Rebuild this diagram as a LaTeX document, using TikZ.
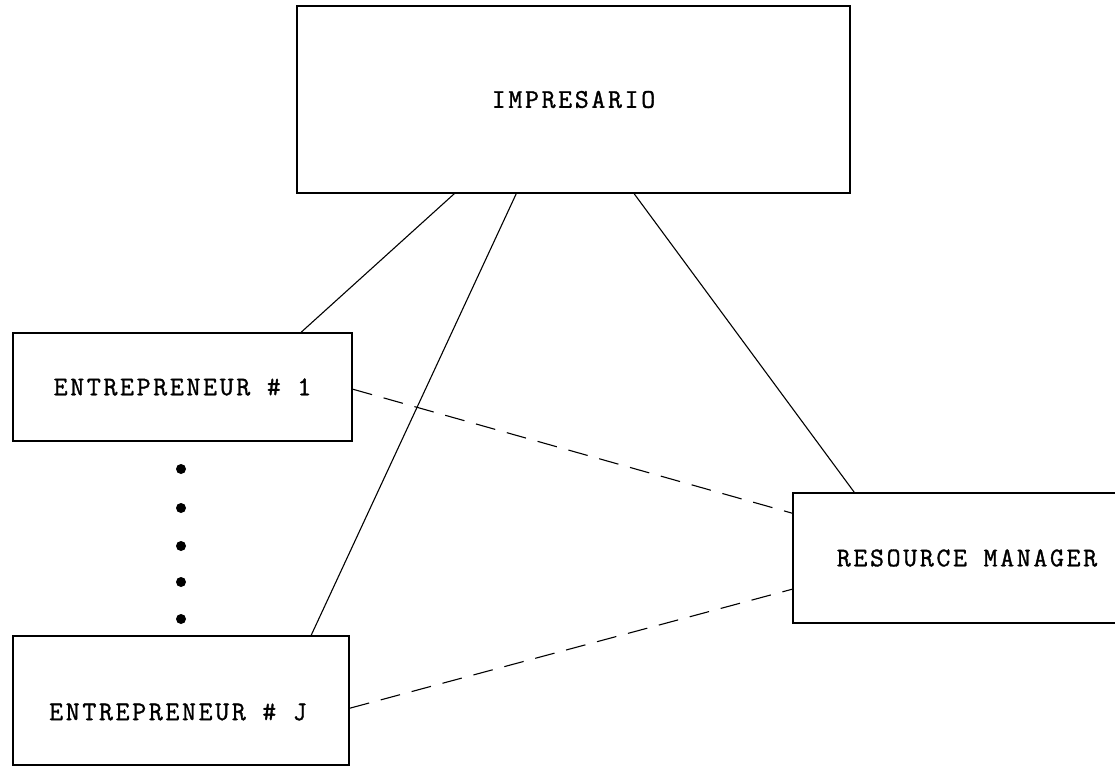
\documentclass[tikz,border=0pt]{standalone}
\usepackage{fontspec}
\setmonofont{Latin Modern Mono}[LetterSpace=10, FakeBold=1.2]
\usetikzlibrary{calc}
\begin{document}
\begin{tikzpicture}[x=1pt,y=-1pt,
  box/.style={draw, line width=1.6pt, inner sep=0pt},
  label/.style={font=\ttfamily\fontsize{27}{31}\selectfont, inner sep=0pt},
  link/.style={line width=1.1pt},
  dashlink/.style={line width=1.1pt, dash pattern=on 20pt off 12pt},
  dot/.style={circle, fill, inner sep=0pt, minimum size=10pt}]
\useasboundingbox (0,0) rectangle (1115,767);

% boxes
\node[box, label, minimum width=553pt, minimum height=187pt] (imp) at (573.5,99.5) {IMPRESARIO};
\node[box, label, minimum width=339pt, minimum height=108pt] (e1) at (182.5,387) {ENTREPRENEUR \# 1};
\node[box, minimum width=336pt, minimum height=129pt] (ej) at (181,700.5) {};
\node[label] (ejtext) at (178,712) {ENTREPRENEUR \# J};
\node[box, label, minimum width=348pt, minimum height=130pt] (rm) at (967,558) {RESOURCE MANAGER};

% ellipsis dots between the entrepreneurs
\foreach \y [count=\i] in {469,508,546,582,619}
  \node[dot] (d\i) at (181,\y) {};

% attachment points on the box edges
\coordinate (p1) at ($(imp.south west)+(158,0)$);
\coordinate (p2) at ($(imp.south west)+(220,0)$);
\coordinate (p3) at ($(imp.south west)+(338,0)$);
\coordinate (q1) at ($(e1.north west)+(289,0)$);
\coordinate (q2) at ($(ej.north west)+(299,0)$);
\coordinate (q3) at ($(rm.north west)+(62,0)$);
\coordinate (r1) at ($(e1.north east)+(0,57)$);
\coordinate (r2) at ($(ej.north east)+(0,73)$);
\coordinate (s1) at ($(rm.north west)+(0,21)$);
\coordinate (s2) at ($(rm.north west)+(0,97)$);

% solid links from the impresario
\draw[link] (p1) -- (q1);
\draw[link] (p2) -- (q2);
\draw[link] (p3) -- (q3);

% dashed links to the resource manager
\draw[dashlink] (r1) -- (s1);
\draw[dashlink] (r2) -- (s2);
\end{tikzpicture}
\end{document}
